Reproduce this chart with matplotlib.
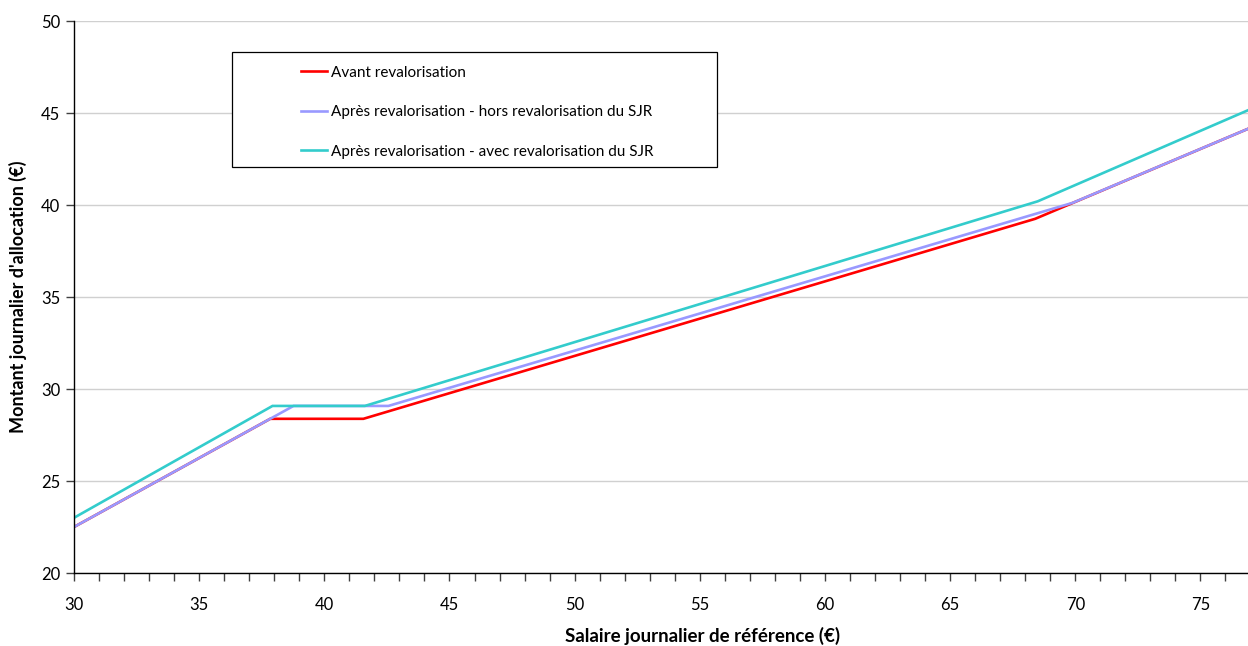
import matplotlib.pyplot as plt
from matplotlib.patches import Rectangle
from matplotlib.ticker import MultipleLocator

plt.rcParams['font.family'] = ['Lato', 'DejaVu Sans']

# Breakpoints of each allowance schedule (SJR in €, daily allowance in €)
sjr_avant = [30, 37.84, 41.56, 68.4, 76.9]
alloc_avant = [22.5, 28.38, 28.38, 39.25, 44.14]

sjr_hors = [30, 38.77, 42.56, 69.9, 76.9]
alloc_hors = [22.5, 29.08, 29.08, 40.12, 44.14]

sjr_avec = [30, 37.93, 41.62, 68.5, 76.9]
alloc_avec = [23.0, 29.08, 29.08, 40.2, 45.15]

labels = ['Avant revalorisation',
          'Après revalorisation - hors revalorisation du SJR',
          'Après revalorisation - avec revalorisation du SJR']
colors = ['#FF0000', '#9999FF', '#33CCCC']

fig = plt.figure(figsize=(12.48, 6.46), dpi=100)
ax = fig.add_axes([74 / 1248, 73 / 646, 1174 / 1248, 552 / 646])

series = [(sjr_avant, alloc_avant), (sjr_hors, alloc_hors), (sjr_avec, alloc_avec)]
for (xs, ys), lab, col in zip(series, labels, colors):
    ax.plot(xs, ys, color=col, lw=1.9, label=lab, solid_joinstyle='miter')

ax.set_xlim(30, 76.9)
ax.set_ylim(20, 50)
ax.xaxis.set_major_locator(MultipleLocator(5))
ax.xaxis.set_minor_locator(MultipleLocator(1))
ax.yaxis.set_major_locator(MultipleLocator(5))
ax.tick_params(axis='both', which='both', direction='out', length=6,
               width=1, labelsize=12, color='#404040')
ax.tick_params(axis='x', pad=11)
ax.tick_params(axis='y', pad=4)
ax.grid(axis='y', color='#D0D0D0', lw=1)
ax.set_axisbelow(True)
for s in ['top', 'right']:
    ax.spines[s].set_visible(False)
for s in ['left', 'bottom']:
    ax.spines[s].set_color('black')
    ax.spines[s].set_linewidth(1)

ax.set_xlabel('Salaire journalier de référence (€)', fontsize=13.5,
              fontweight='bold')
ax.xaxis.set_label_coords(0.535, -0.097)
ax.set_ylabel("Montant journalier d'allocation (€)", fontsize=13,
              fontweight='bold')
ax.yaxis.set_label_coords(-0.040, 0.5)

# legend box drawn separately so its size can be set freely
ax.add_patch(Rectangle((0.1346, 0.7355), 0.4131, 0.2083, transform=ax.transAxes,
                       fill=True, facecolor='white', edgecolor='black',
                       lw=0.9, zorder=5))
leg = ax.legend(loc='upper left', bbox_to_anchor=(0.1934, 0.919), frameon=False,
                fontsize=11, handlelength=1.7, handletextpad=0.26,
                labelspacing=1.67, borderpad=0, borderaxespad=0)
leg.set_zorder(6)

fig.savefig('out.png', dpi=100)
